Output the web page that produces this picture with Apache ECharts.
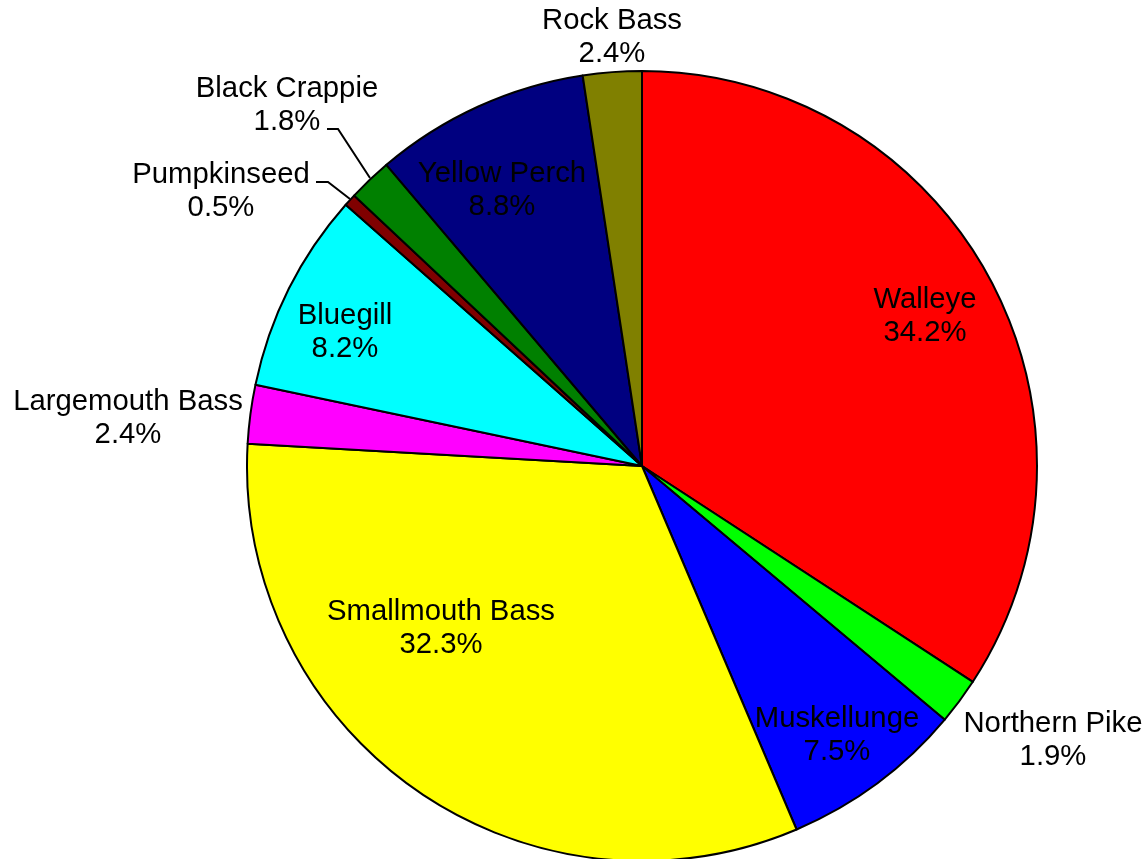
<!DOCTYPE html>
<html>
<head>
<meta charset="utf-8">
<script src="https://cdn.jsdelivr.net/npm/echarts@6/dist/echarts.min.js"></script>
<style>
html,body{margin:0;padding:0;background:#fff;}
#chart{width:1147px;height:859px;}
</style>
</head>
<body>
<div id="chart"></div>
<script>
// Data
var species = ['Walleye','Northern Pike','Muskellunge','Smallmouth Bass','Largemouth Bass','Bluegill','Pumpkinseed','Black Crappie','Yellow Perch','Rock Bass'];
var percents = [34.2, 1.9, 7.5, 32.3, 2.4, 8.2, 0.5, 1.8, 8.8, 2.4];

// Styles / layout (not data)
var colors = ['#FF0000','#00FF00','#0000FF','#FFFF00','#FF00FF','#00FFFF','#800000','#008000','#000080','#808000'];
var labelPos = [[925,316],[1053,740],[837,735],[441,628],[128,418],[345,332],[221,191],[287,105],[502,190],[612,37]];
var leaderLines = {
  6: [[350,199],[328,182],[316,182]],
  7: [[370,178],[338,129],[327,129]]
};

var chart = echarts.init(document.getElementById('chart'));
var data = species.map(function(n,i){
  var hasLine = !!leaderLines[i];
  return {
    name: n, value: percents[i],
    itemStyle: {color: colors[i]},
    label: {position: hasLine ? 'outside' : 'inside'},
    labelLine: {show: hasLine, lineStyle:{color:'#000', width:2}, length: 10, length2: 10}
  };
});
chart.setOption({
  animation: false,
  series: [{
    type: 'pie',
    center: [642, 466],
    radius: 395,
    startAngle: 90,
    clockwise: true,
    avoidLabelOverlap: false,
    minShowLabelAngle: 0,
    data: data,
    itemStyle: {borderColor: '#000', borderWidth: 2},
    labelLine: {lineStyle: {color: '#000', width: 2}},
    label: {
      show: true,
      formatter: '{b}\n{c}%',
      color: '#000',
      fontFamily: 'Liberation Sans, Arial, sans-serif',
      fontSize: 29.3,
      lineHeight: 33,
      align: 'center'
    },
    emphasis: {disabled: true},
    labelLayout: function(p){
      var i = p.dataIndex;
      var o = {x: labelPos[i][0], y: labelPos[i][1], align: 'center', verticalAlign: 'middle'};
      if (leaderLines[i]) o.labelLinePoints = leaderLines[i];
      return o;
    }
  }]
});
</script>
</body>
</html>
